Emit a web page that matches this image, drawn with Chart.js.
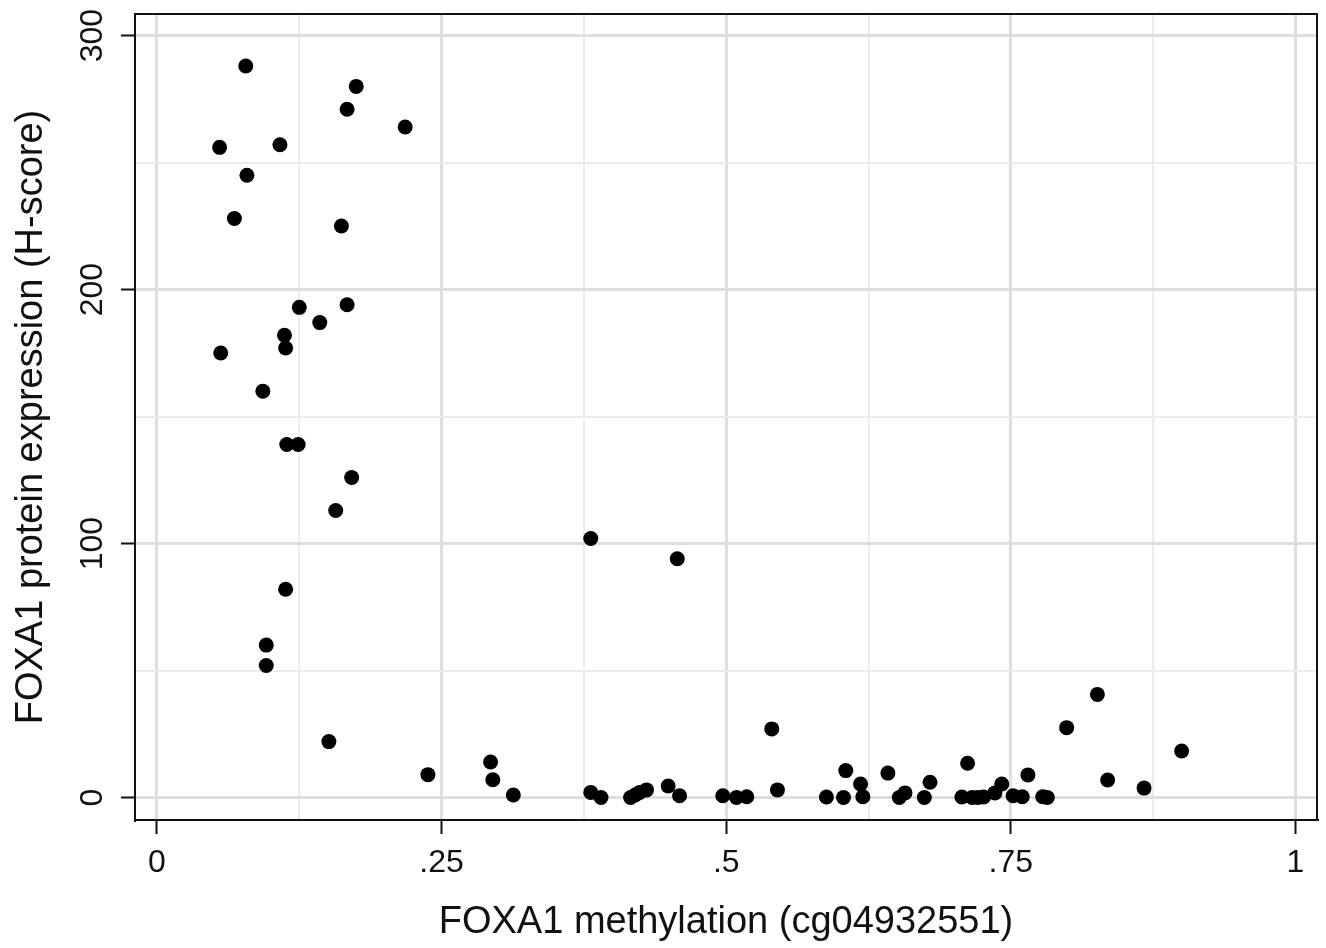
<!DOCTYPE html>
<html>
<head>
<meta charset="utf-8">
<script src="https://cdn.jsdelivr.net/npm/chart.js@4.4.0/dist/chart.umd.min.js"></script>
<style>
  body { margin: 0; background: #fff; }
  #wrap { width: 1326px; height: 948px; position: relative; }
</style>
</head>
<body>
<div id="wrap"><canvas id="myChart"></canvas></div>
<script>
// FOXA1 methylation (x) vs FOXA1 protein H-score (y), one pair per sample
var methylation = [
  0.055, 0.078, 0.079, 0.068, 0.108, 0.167, 0.175, 0.218, 0.162, 0.056,
  0.125, 0.112, 0.113, 0.143, 0.167, 0.093, 0.114, 0.124, 0.171, 0.157,
  0.113, 0.096, 0.096, 0.151, 0.238, 0.293, 0.295, 0.313, 0.381, 0.381,
  0.390, 0.416, 0.420, 0.424, 0.430, 0.449, 0.459, 0.457, 0.497, 0.509,
  0.518, 0.540, 0.545, 0.588, 0.605, 0.603, 0.618, 0.620, 0.642, 0.652,
  0.657, 0.674, 0.679, 0.707, 0.712, 0.716, 0.721, 0.726, 0.736, 0.742,
  0.752, 0.760, 0.765, 0.778, 0.782, 0.799, 0.826, 0.835, 0.867, 0.900
];
var hscore = [
  256, 288, 245, 228, 257, 271, 280, 264, 225, 175,
  193, 182, 177, 187, 194, 160, 139, 139, 126, 113,
  82, 60, 52, 22, 9, 14, 7, 1, 102, 2,
  0, 0, 1, 2, 3, 4.5, 0.7, 94, 0.7, 0,
  0.3, 27, 3, 0.2, 10.6, 0, 5.3, 0.3, 9.6, 0,
  1.8, 0, 6, 0.2, 13.5, 0, 0, 0.2, 1.8, 5.3,
  0.7, 0.3, 8.9, 0.3, 0, 27.5, 40.6, 6.9, 3.7, 18.3
];
var yTickLabels = [0, 100, 200, 300];

var points = [];
for (var i = 0; i < methylation.length; i++) {
    points.push({x: methylation[i], y: hscore[i]});
}

function isMajorX(v) { return Math.abs(v * 4 - Math.round(v * 4)) < 1e-6; }
function isMajorY(v) { return Math.abs(v / 100 - Math.round(v / 100)) < 1e-6; }

var fontFam = '"Liberation Sans", Arial, Helvetica, sans-serif';

// frame round the plot + rotated y tick labels (Stata style)
var framePlugin = {
    id: 'frame',
    afterDraw: function(chart) {
        var ctx = chart.ctx;
        var a = chart.chartArea;
        ctx.save();
        ctx.strokeStyle = '#111';
        ctx.lineWidth = 2;
        ctx.strokeRect(a.left, a.top, a.right - a.left, a.bottom - a.top);

        var ys = chart.scales.y;
        ctx.fillStyle = '#111';
        ctx.font = '32px ' + fontFam;
        ctx.textAlign = 'center';
        ctx.textBaseline = 'middle';
        for (var k = 0; k < yTickLabels.length; k++) {
            var py = ys.getPixelForValue(yTickLabels[k]);
            ctx.save();
            ctx.translate(93, py);
            ctx.rotate(-Math.PI / 2);
            ctx.fillText(String(yTickLabels[k]), 0, 0);
            ctx.restore();
        }
        ctx.restore();
    }
};

var ctx = document.getElementById("myChart").getContext("2d");
var chart = new Chart(ctx, {
    type: 'scatter',
    data: {
        datasets: [{
            label: 'FOXA1',
            data: points,
            backgroundColor: '#000',
            borderWidth: 0,
            pointRadius: 7.5,
            pointHoverRadius: 7.5
        }]
    },
    options: {
        responsive: true,
        maintainAspectRatio: false,
        animation: false,
        layout: { padding: { top: 14, right: 9, left: 0, bottom: 0 } },
        plugins: { legend: { display: false }, tooltip: { enabled: false } },
        scales: {
            x: {
                type: 'linear',
                min: -0.0193,
                max: 1.0189,
                afterFit: function(s) { s.height = 128; },
                border: { display: true, color: '#111', width: 2 },
                grid: {
                    color: function(c) { return isMajorX(c.tick.value) ? '#dedede' : '#ececec'; },
                    lineWidth: function(c) { return isMajorX(c.tick.value) ? 3 : 2; },
                    tickColor: function(c) { return isMajorX(c.tick.value) ? '#111' : 'rgba(0,0,0,0)'; },
                    tickWidth: 2,
                    tickLength: 14
                },
                ticks: {
                    stepSize: 0.125,
                    includeBounds: false,
                    autoSkip: false,
                    maxRotation: 0,
                    padding: 10,
                    color: '#111',
                    font: { family: fontFam, size: 32 },
                    callback: function(v) {
                        if (!isMajorX(v)) return '';
                        return String(Math.round(v * 100) / 100).replace(/^0\./, '.');
                    }
                },
                title: {
                    display: true,
                    text: 'FOXA1 methylation (cg04932551)',
                    color: '#111',
                    font: { family: fontFam, size: 38 },
                    padding: { top: 0, bottom: 3 }
                }
            },
            y: {
                type: 'linear',
                min: -8.86,
                max: 308.5,
                afterFit: function(s) { s.width = 135; },
                border: { display: true, color: '#111', width: 2 },
                grid: {
                    color: function(c) { return isMajorY(c.tick.value) ? '#dedede' : '#ececec'; },
                    lineWidth: function(c) { return isMajorY(c.tick.value) ? 3 : 2; },
                    tickColor: function(c) { return isMajorY(c.tick.value) ? '#111' : 'rgba(0,0,0,0)'; },
                    tickWidth: 2,
                    tickLength: 14
                },
                ticks: {
                    stepSize: 50,
                    includeBounds: false,
                    display: false
                },
                title: {
                    display: true,
                    text: 'FOXA1 protein expression (H-score)',
                    color: '#111',
                    font: { family: fontFam, size: 38 },
                    padding: { top: 9, bottom: 0 }
                }
            }
        }
    },
    plugins: [framePlugin]
});
</script>
</body>
</html>
